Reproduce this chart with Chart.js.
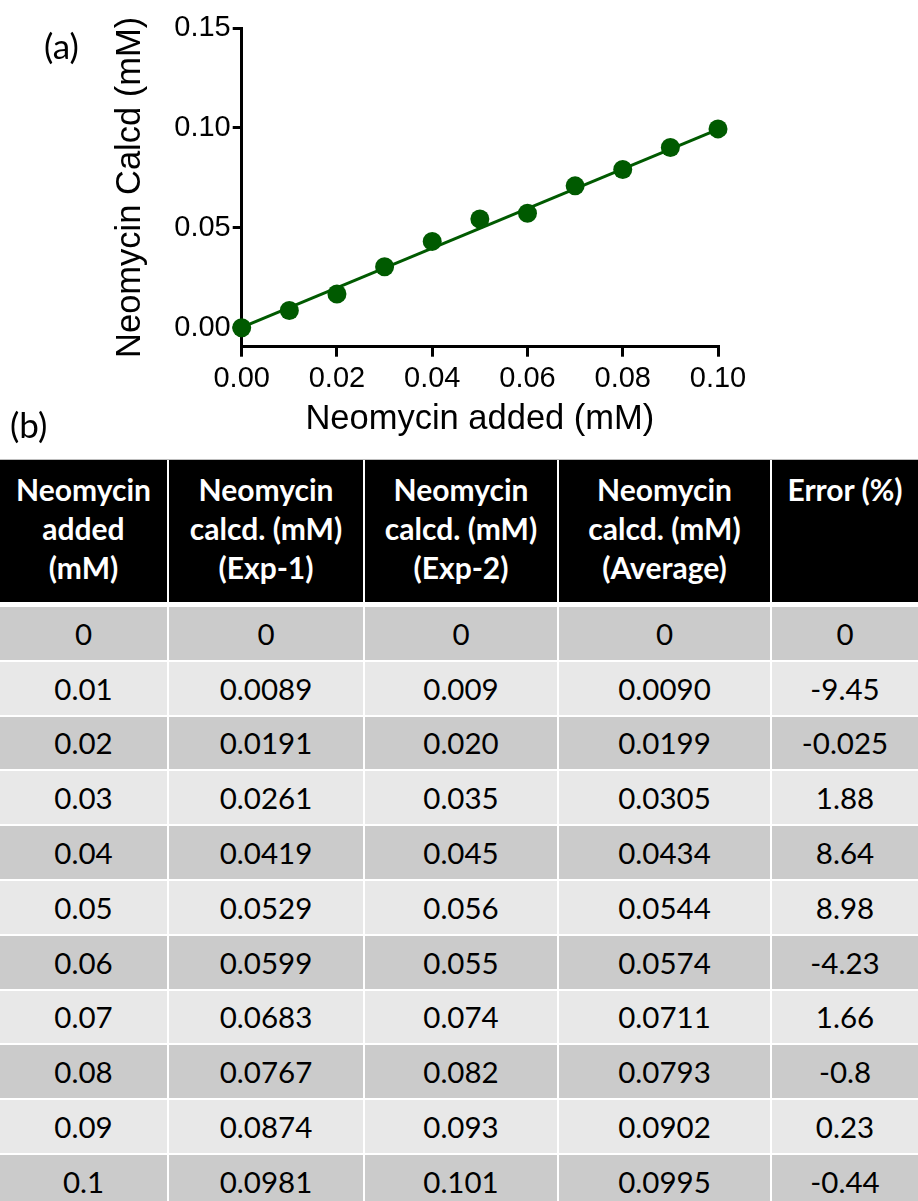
<!DOCTYPE html>
<html>
<head>
<meta charset="utf-8">
<script src="https://cdn.jsdelivr.net/npm/chart.js@4/dist/chart.umd.min.js"></script>
<style>
  html, body { margin: 0; padding: 0; background: #fff; }
  #page { position: relative; width: 918px; height: 1201px; overflow: hidden; }
  #plot { position: absolute; left: 0; top: 0; }
  .panel { position: absolute; font-family: Lato, "Noto Sans", sans-serif; font-size: 35px; color: #000; line-height: 1; }
  #tbl { position: absolute; left: 0; top: 459px; width: 918px; border-collapse: separate; border-spacing: 0;
         table-layout: fixed; border-top: 1px solid #bdbdbd; font-family: Lato, "Noto Sans", sans-serif; }
  #tbl th { background: #000; color: #fff; font-weight: 700; font-size: 30px; line-height: 39px;
            vertical-align: top; text-align: center; padding: 10px 0 0 0; height: 132px;
            border-bottom: 5px solid #fff; white-space: nowrap; }
  #tbl td { color: #000; font-size: 29.5px; text-align: center; vertical-align: middle; height: 52.8px; padding: 0;
            border-bottom: 2px solid #fff; }
  #tbl th + th, #tbl td + td { border-left: 2px solid #fff; }
  #tbl tr.odd td { background: #cbcbcb; }
  #tbl tr.even td { background: #e8e8e8; }
</style>
</head>
<body>
<div id="page">
  <canvas id="plot" width="918" height="450"></canvas>
  <div class="panel" style="left:44px; top:28px;">(a)</div>
  <div class="panel" style="left:10px; top:407px;">(b)</div>
  <table id="tbl">
    <colgroup>
      <col style="width:167px"><col style="width:196px"><col style="width:194px"><col style="width:213px"><col style="width:148px">
    </colgroup>
    <thead><tr id="head"></tr></thead>
    <tbody id="body"></tbody>
  </table>
</div>
<script>
// Neomycin standards (mM) and the calculated concentrations plotted in panel (a)
const addedMM = [0, 0.01, 0.02, 0.03, 0.04, 0.05, 0.06, 0.07, 0.08, 0.09, 0.10];
const calcdPlotted = [0, 0.0086, 0.0169, 0.0305, 0.0432, 0.0544, 0.0573, 0.0710, 0.0792, 0.0902, 0.0995];

// Linear fit drawn through the points
const fitX = [0, 0.10];
const fitY = [0.0002, 0.0993];

// Axis ticks
const xTicks = [0, 0.02, 0.04, 0.06, 0.08, 0.10];
const yTicks = [0, 0.05, 0.10, 0.15];

// Table (b)
const headers = [
  ['Neomycin', 'added', '(mM)'],
  ['Neomycin', 'calcd. (mM)', '(Exp-1)'],
  ['Neomycin', 'calcd. (mM)', '(Exp-2)'],
  ['Neomycin', 'calcd. (mM)', '(Average)'],
  ['Error (%)']
];
const colAdded = ['0', '0.01', '0.02', '0.03', '0.04', '0.05', '0.06', '0.07', '0.08', '0.09', '0.1'];
const colExp1 = ['0', '0.0089', '0.0191', '0.0261', '0.0419', '0.0529', '0.0599', '0.0683', '0.0767', '0.0874', '0.0981'];
const colExp2 = ['0', '0.009', '0.020', '0.035', '0.045', '0.056', '0.055', '0.074', '0.082', '0.093', '0.101'];
const colAvg = ['0', '0.0090', '0.0199', '0.0305', '0.0434', '0.0544', '0.0574', '0.0711', '0.0793', '0.0902', '0.0995'];
const colError = ['0', '-9.45', '-0.025', '1.88', '8.64', '8.98', '-4.23', '1.66', '-0.8', '0.23', '-0.44'];

const GREEN = '#005a00';
const AXIS_FONT = 'Liberation Sans, Arial, sans-serif';

new Chart(document.getElementById('plot'), {
  type: 'scatter',
  data: {
    datasets: [
      {
        data: addedMM.map((x, i) => ({ x, y: calcdPlotted[i] })),
        backgroundColor: GREEN, borderColor: GREEN,
        pointRadius: 9.5, pointBorderWidth: 0, showLine: false, clip: false
      },
      {
        type: 'line',
        data: fitX.map((x, i) => ({ x, y: fitY[i] })),
        borderColor: GREEN, borderWidth: 3, pointRadius: 0, fill: false, clip: false
      }
    ]
  },
  options: {
    responsive: false,
    animation: false,
    events: [],
    layout: { padding: { left: 0, right: 200, top: 28, bottom: 0 } },
    plugins: { legend: { display: false }, tooltip: { enabled: false } },
    scales: {
      x: {
        type: 'linear', min: 0, max: 0.10,
        afterBuildTicks: s => { s.ticks = xTicks.map(v => ({ value: v })); },
        afterFit: s => { s.height = 103.3; },
        grid: { drawOnChartArea: false, drawTicks: true, tickLength: 10, color: '#000', lineWidth: 3 },
        border: { display: true, color: '#000', width: 3 },
        ticks: { color: '#000', font: { family: AXIS_FONT, size: 29 }, padding: 5, maxRotation: 0, autoSkip: false,
                 callback: v => Number(v).toFixed(2) },
        title: { display: true, text: 'Neomycin added (mM)', color: '#000',
                 font: { family: AXIS_FONT, size: 34.5 }, padding: { top: 0, bottom: 10 } }
      },
      y: {
        type: 'linear', min: -0.0095, max: 0.15,
        afterBuildTicks: s => { s.ticks = yTicks.map(v => ({ value: v })); },
        afterFit: s => { s.width = 241.7; },
        grid: { drawOnChartArea: false, drawTicks: true, tickLength: 9, color: '#000', lineWidth: 3 },
        border: { display: true, color: '#000', width: 3 },
        ticks: { color: '#000', font: { family: AXIS_FONT, size: 29 }, padding: 2, autoSkip: false,
                 callback: v => Number(v).toFixed(2) },
        title: { display: true, text: 'Neomycin Calcd (mM)', color: '#000',
                 font: { family: AXIS_FONT, size: 34.5 }, padding: { top: 110, bottom: 0 } }
      }
    }
  }
});

// Build table (b)
const headRow = document.getElementById('head');
headers.forEach(lines => {
  const th = document.createElement('th');
  th.innerHTML = lines.join('<br>');
  headRow.appendChild(th);
});
const tbody = document.getElementById('body');
colAdded.forEach((v, i) => {
  const tr = document.createElement('tr');
  tr.className = i % 2 === 0 ? 'odd' : 'even';
  [colAdded[i], colExp1[i], colExp2[i], colAvg[i], colError[i]].forEach(t => {
    const td = document.createElement('td');
    td.textContent = t;
    tr.appendChild(td);
  });
  tbody.appendChild(tr);
});
</script>
</body>
</html>
